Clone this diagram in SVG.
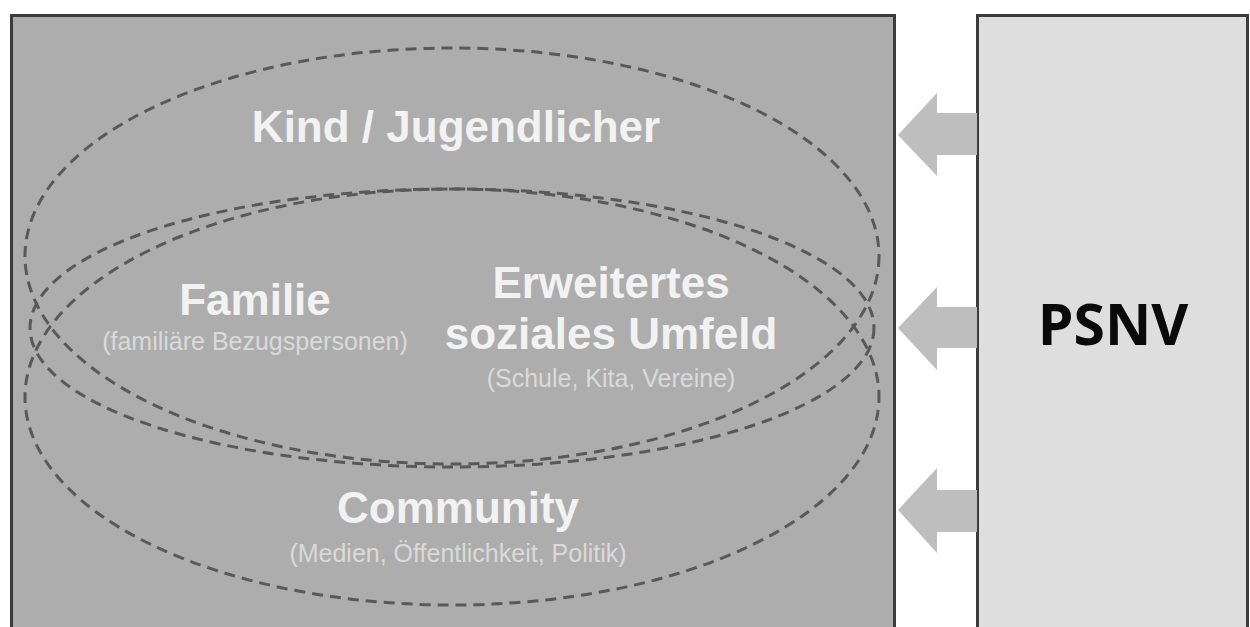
<svg xmlns="http://www.w3.org/2000/svg" width="1250" height="627" viewBox="0 0 1250 627">
  <style>
    .box { stroke: #3c3c3c; stroke-width: 3; }
    .ell { fill: none; stroke: #595959; stroke-width: 3; stroke-dasharray: 11 7; }
    .h { font-family: "Liberation Sans", Arial, sans-serif; font-weight: bold; font-size: 44px; fill: #f2f2f2; text-anchor: middle; }
    .s { font-family: "Liberation Sans", Arial, sans-serif; font-size: 25px; fill: #dadada; text-anchor: middle; }
    .arrow { fill: #bebebe; }
  </style>
  <rect width="1250" height="627" fill="#ffffff"/>
  <g id="context-box">
    <rect class="box" x="11.5" y="15.5" width="883" height="640" fill="#adadad"/>
  </g>
  <g id="psnv">
    <rect class="box" x="977.5" y="15.5" width="270" height="640" fill="#dedede"/>
    <text x="1113" y="345" font-family="'Open Sans', 'Noto Sans', sans-serif" font-weight="bold" font-size="57" fill="#0a0a0a" text-anchor="middle">PSNV</text>
  </g>
  <g id="kind">
    <ellipse class="ell" cx="452" cy="256" rx="427" ry="208"/>
    <text class="h" x="456" y="142">Kind / Jugendlicher</text>
  </g>
  <g id="community">
    <ellipse class="ell" cx="452" cy="397" rx="427" ry="208" stroke-dashoffset="5"/>
    <text class="h" x="458" y="523">Community</text>
    <text class="s" x="458" y="562">(Medien, Öffentlichkeit, Politik)</text>
  </g>
  <g id="familie">
    <ellipse class="ell" cx="452" cy="328" rx="422" ry="139"/>
    <text class="h" x="255" y="315">Familie</text>
    <text class="s" x="255" y="350">(familiäre Bezugspersonen)</text>
  </g>
  <g id="umfeld">
    <text class="h" x="611" y="298">Erweitertes</text>
    <text class="h" x="611" y="349">soziales Umfeld</text>
    <text class="s" x="611" y="387">(Schule, Kita, Vereine)</text>
  </g>
  <g id="connectors">
    <polygon class="arrow" points="898,135 937,93 937,113 977,113 977,155 937,155 937,176"/>
    <polygon class="arrow" points="898,328 937,287 937,307 977,307 977,348 937,348 937,370"/>
    <polygon class="arrow" points="898,510 937,468 937,490 977,490 977,532 937,532 937,553"/>
  </g>
</svg>
